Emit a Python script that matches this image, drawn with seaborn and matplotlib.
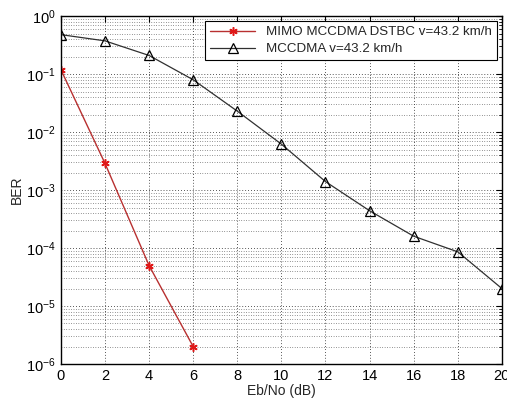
import matplotlib
matplotlib.use("Agg")
import matplotlib.pyplot as plt
import seaborn as sns
import pandas as pd
import numpy as np
from matplotlib.ticker import LogLocator, FixedLocator

ebno_mimo = [0, 2, 4, 6]
ber_mimo = [0.12, 2.9e-3, 5e-5, 2e-6]
ebno_mc = [0, 2, 4, 6, 8, 10, 12, 14, 16, 18, 20]
ber_mc = [0.48, 0.375, 0.21, 0.08, 0.023, 0.0062, 1.4e-3, 4.4e-4, 1.6e-4, 8.6e-5, 2.0e-5]
label_mimo = "MIMO MCCDMA DSTBC v=43.2 km/h"
label_mc = "MCCDMA v=43.2 km/h"
xticks = [0, 2, 4, 6, 8, 10, 12, 14, 16, 18, 20]

sns.set_style("white")
plt.rcParams['font.family'] = ['Liberation Sans', 'DejaVu Sans']
plt.rcParams['mathtext.fontset'] = 'custom'
plt.rcParams['mathtext.rm'] = 'Liberation Sans'
plt.rcParams['mathtext.it'] = 'Liberation Sans'
plt.rcParams['mathtext.default'] = 'regular'

df1 = pd.DataFrame({"x": ebno_mimo, "y": ber_mimo})
df2 = pd.DataFrame({"x": ebno_mc, "y": ber_mc})

fig = plt.figure(figsize=(5.07, 4.04), dpi=100)
ax = fig.add_axes([0.120, 0.099, 0.870, 0.861])

sns.lineplot(data=df1, x="x", y="y", ax=ax, color="#b83030", marker=(6, 2, 0),
             markersize=6, markeredgecolor="#e01818", markeredgewidth=1.1,
             linewidth=1.0, label=label_mimo)
sns.lineplot(data=df2, x="x", y="y", ax=ax, color="#303030", marker="^",
             markersize=6.5, markerfacecolor="none", markeredgecolor="black",
             markeredgewidth=0.9, linewidth=0.9, label=label_mc)

ax.set_yscale("log")
ax.set_xlim(0, 20)
ax.set_ylim(1e-6, 1)
ax.xaxis.set_major_locator(FixedLocator(xticks))
ax.yaxis.set_major_locator(LogLocator(base=10, numticks=10))
ax.yaxis.set_minor_locator(LogLocator(base=10, subs=np.arange(2, 10), numticks=20))

ax.grid(True, which="major", linestyle=(0, (1, 2.5)), color="#202020", linewidth=0.6)
ax.grid(True, which="minor", axis="y", linestyle=(0, (1, 2.5)), color="#303030", linewidth=0.5)

ax.tick_params(axis="both", which="both", direction="in", top=True, right=True,
               labelsize=10.5, colors="black")
ax.tick_params(which="major", length=4)
ax.tick_params(which="minor", length=2)
for s in ax.spines.values():
    s.set_color("black")
    s.set_linewidth(1.0)

ax.set_xlabel("Eb/No (dB)", fontsize=10, labelpad=1)
ax.set_ylabel("BER", fontsize=10, labelpad=2)

leg = ax.legend(loc="upper right", fontsize=9.6, frameon=True, fancybox=False,
                edgecolor="black", framealpha=1, borderaxespad=0.4,
                handlelength=3.4, borderpad=0.35, labelspacing=0.35)
leg.get_frame().set_linewidth(0.8)

fig.savefig("out.png", dpi=100)
